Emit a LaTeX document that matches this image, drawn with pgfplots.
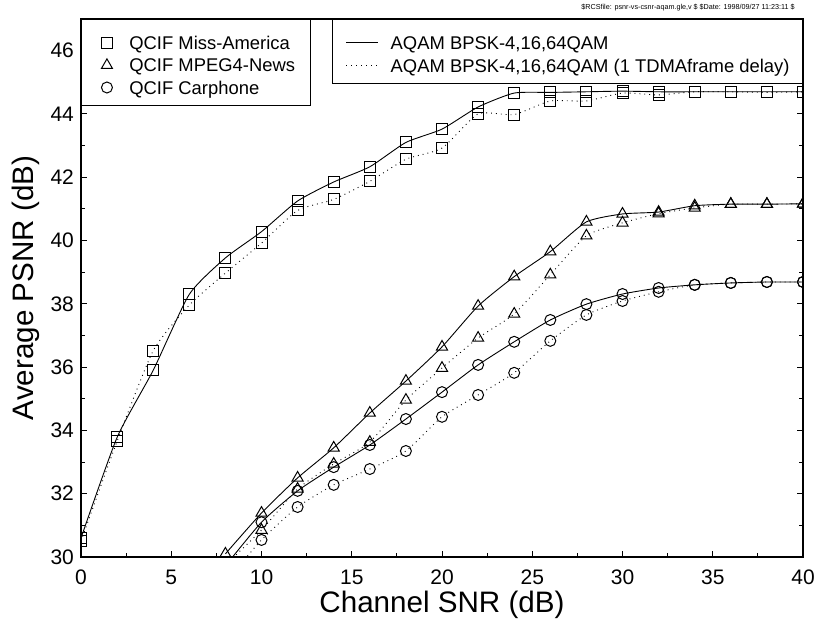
\documentclass[border=0pt]{standalone}
\usepackage{pgfplots}
\pgfplotsset{compat=1.18}
\usepackage{fontspec}
\setmainfont{Liberation Sans}

% Miss-America, MPEG4-News, Carphone; solid = AQAM, dotted = 1 TDMA frame delay
\pgfplotstableread{
x   y
0   30.60
2   33.78
4   35.90
6   38.30
8   39.45
10  40.28
12  41.25
14  41.85
16  42.33
18  43.10
20  43.52
22  44.22
24  44.66
26  44.68
28  44.70
30  44.72
32  44.70
34  44.70
36  44.70
38  44.70
40  44.70
}\maSolid
\pgfplotstableread{
x   y
0   30.50
2   33.66
4   36.52
6   37.96
8   38.97
10  39.92
12  40.95
14  41.30
16  41.87
18  42.57
20  42.92
22  44.00
24  43.98
26  44.41
28  44.41
30  44.66
32  44.60
34  44.70
36  44.70
38  44.68
40  44.70
}\maDot
\pgfplotstableread{
x   y
8   30.10
10  31.39
12  32.50
14  33.45
16  34.55
18  35.56
20  36.64
22  37.93
24  38.86
26  39.65
28  40.59
30  40.84
32  40.90
34  41.10
36  41.15
38  41.15
40  41.16
}\newsSolid
\pgfplotstableread{
x   y
8   29.75
10  30.85
12  32.15
14  32.94
16  33.63
18  34.96
20  35.97
22  36.92
24  37.68
26  38.92
28  40.15
30  40.56
32  40.85
34  41.03
36  41.15
38  41.15
40  41.16
}\newsDot
\pgfplotstableread{
x   y
8   29.72
10  31.10
12  32.09
14  32.84
16  33.54
18  34.36
20  35.21
22  36.07
24  36.80
26  37.49
28  37.99
30  38.31
32  38.50
34  38.60
36  38.66
38  38.69
40  38.69
}\carSolid
\pgfplotstableread{
x   y
8   29.20
10  30.54
12  31.58
14  32.28
16  32.78
18  33.35
20  34.43
22  35.12
24  35.82
26  36.83
28  37.65
30  38.09
32  38.38
34  38.60
36  38.66
38  38.69
40  38.69
}\carDot

\begin{document}
\begin{tikzpicture}
\pgfplotsset{
  base/.style={
    scale only axis, width=361pt, height=269pt,
    xmin=0, xmax=40, ymin=30, ymax=47,
  },
  legbox/.style={draw=black, line width=0.5pt,
    font=\fontsize{9.2}{10}\selectfont,
    cells={anchor=base west},
    nodes={inner xsep=0pt, inner ysep=0.25pt, text height=10pt, text depth=0.6pt}},
}
\begin{axis}[
  base,
  axis line style={line width=0.6pt},
  tick style={line width=0.5pt, black},
  tick align=inside,
  major tick length=3pt, minor tick length=2pt,
  xtick={0,5,...,40}, minor x tick num=1,
  ytick={30,32,...,46}, minor y tick num=1,
  ticklabel style={font=\fontsize{10.5}{12}\selectfont},
  xticklabel style={yshift=-3pt},
  /pgf/number format/assume math mode=true,
  xlabel={Channel SNR (dB)}, ylabel={Average PSNR (dB)},
  every axis x label/.style={at={(axis description cs:0.5,-0.088)}, anchor=center,
    font=\fontsize{14.8}{17}\selectfont},
  every axis y label/.style={at={(axis description cs:-0.077,0.5)}, rotate=90, anchor=center,
    font=\fontsize{14.8}{17}\selectfont},
  clip marker paths=true,
  every axis plot/.append style={black, line width=0.45pt, smooth, tension=0.35,
    mark options={solid, fill=white, line width=0.5pt}},
  legend style={legbox, at={(0,1)}, anchor=north west,
    inner xsep=7.5pt, inner ysep=4.85pt, row sep=0pt},
  legend image code/.code={\path (0pt,3.3pt) (16pt,3.3pt);
    \draw[#1] plot coordinates {(5pt,3.3pt)};},
]
\addlegendimage{only marks, mark=square, mark size=2.75pt, mark options={fill=white, line width=0.5pt}}
\addlegendentry{QCIF Miss-America}
\addlegendimage{only marks, mark=triangle, mark size=3.2pt, mark options={fill=white, line width=0.5pt}}
\addlegendentry{QCIF MPEG4-News}
\addlegendimage{only marks, mark=o, mark size=2.75pt, mark options={fill=white, line width=0.5pt}}
\addlegendentry{QCIF Carphone}

\addplot[dotted, mark=square, mark size=2.75pt, forget plot] table {\maDot};
\addplot[mark=square, mark size=2.75pt, forget plot] table {\maSolid};
\addplot[dotted, mark=triangle, mark size=3.2pt, forget plot] table {\newsDot};
\addplot[mark=triangle, mark size=3.2pt, forget plot] table {\newsSolid};
\addplot[dotted, mark=o, mark size=2.75pt, forget plot] table {\carDot};
\addplot[mark=o, mark size=2.75pt, forget plot] table {\carSolid};

\coordinate (tr) at (rel axis cs:1,1);
\coordinate (bl) at (rel axis cs:0,0);
\end{axis}

\begin{axis}[
  base, hide axis,
  legend style={legbox, at={(1,1)}, anchor=north east,
    inner xsep=6.5pt, inner ysep=4.7pt, row sep=0.4pt},
  legend image code/.code={\path (0pt,3.3pt) (22pt,3.3pt);
    \draw[#1, line width=0.45pt] (0pt,3.3pt) -- (16pt,3.3pt);},
]
\addlegendimage{black}
\addlegendentry{AQAM BPSK-4,16,64QAM}
\addlegendimage{black, dotted}
\addlegendentry{AQAM BPSK-4,16,64QAM (1 TDMAframe delay)}
\end{axis}

\node[anchor=east, font=\fontsize{3.6}{4}\selectfont, inner sep=0pt]
  at ([xshift=-4pt, yshift=5.5pt]tr) {\$RCSfile: psnr-vs-csnr-aqam.gle,v \$ \$Date: 1998/09/27 11:23:11 \$};

\pgfresetboundingbox
\path ([xshift=-40.5pt, yshift=-32.5pt]bl) rectangle ([xshift=6.5pt, yshift=9.5pt]tr);
\end{tikzpicture}
\end{document}
